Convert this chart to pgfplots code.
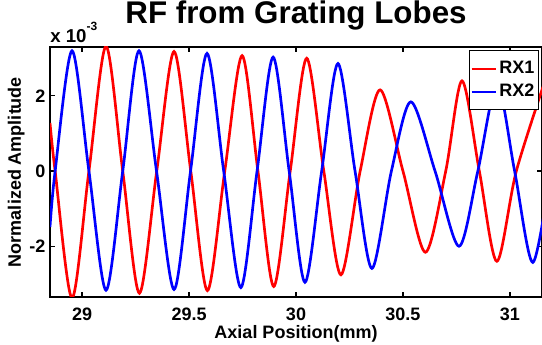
\documentclass[border=0pt]{standalone}
\usepackage{pgfplots}
\pgfplotsset{compat=1.18}
\usepackage{fontspec}
\setmainfont{Liberation Sans}
\begin{document}
\begin{tikzpicture}
\begin{axis}[name=ax, scale only axis, width=369pt, height=187.5pt,
 xmin=28.85, xmax=31.15, ymin=-3.35, ymax=3.3,
 xtick={29,29.5,30,30.5,31}, xticklabels={29,29.5,30,30.5,31},
 ytick={-2,0,2}, yticklabels={-2,0,2},
 tick align=inside, major tick length=4pt,
 axis line style={line width=1.3pt},
 every tick/.style={line width=0.9pt, black},
 tick label style={font=\fontsize{13.5}{16}\selectfont\bfseries},
 xticklabel style={anchor=base, yshift=-18pt},
 xlabel={Axial Position(mm)}, ylabel={Normalized Amplitude},
 label style={font=\fontsize{13.5}{16}\selectfont\bfseries},
 xlabel style={at={(axis description cs:0.5,-0.168)}, anchor=base},
 ylabel style={at={(axis description cs:-0.059,0.5)}, anchor=base},
 title={RF from Grating Lobes},
 title style={font=\fontsize{23.5}{28}\selectfont\bfseries, at={(axis description cs:0.5,1.06)}, anchor=base},
 legend style={at={(rel axis cs:0.994,0.988)}, anchor=north east, draw=black, line width=1pt,
   font=\fontsize{13.5}{16}\selectfont\bfseries, inner xsep=1pt, inner ysep=6pt, row sep=2.5pt},
 legend cell align=left,
 legend image code/.code={\draw[#1, line width=1.5pt] (0pt,0pt) -- (18pt,0pt);},
]
\addplot[red, line width=2pt, smooth] coordinates {
(28.85,1.28) (28.874,0) (28.953,-3.38) (29.032,0) (29.112,3.32) (29.19,0)
(29.268,-3.25) (29.349,0) (29.43,3.18) (29.508,0) (29.586,-3.18) (29.667,0)
(29.748,3.07) (29.822,0) (29.896,-3.07) (29.973,0) (30.05,3.0) (30.13,0)
(30.21,-2.76) (30.30,0) (30.393,2.16) (30.50,0) (30.605,-2.16) (30.70,0)
(30.776,2.4) (30.857,0) (30.939,-2.4) (31.03,0) (31.17,2.5)
};
\addlegendentry{RX1}
\addplot[blue, line width=2pt, smooth] coordinates {
(28.85,-1.49) (28.874,0) (28.953,3.2) (29.032,0) (29.112,-3.17) (29.19,0)
(29.266,3.2) (29.348,0) (29.43,-3.15) (29.507,0) (29.584,3.13) (29.662,0)
(29.742,-3.1) (29.818,0) (29.893,3.03) (29.968,0) (30.042,-2.96) (30.12,0)
(30.196,2.86) (30.276,0) (30.355,-2.59) (30.446,0) (30.537,1.84) (30.65,0)
(30.762,-2.0) (30.85,0) (30.94,2.3) (31.022,0) (31.107,-2.43) (31.19,0)
};
\addlegendentry{RX2}
\end{axis}
\node[anchor=base west, inner sep=0pt, font=\fontsize{14}{16}\selectfont\bfseries] at ([yshift=3pt]ax.north west) {x 10\raisebox{9.5pt}{\fontsize{9}{11}\selectfont -3}};
\pgfresetboundingbox
\path ([xshift=-37.5pt,yshift=-36pt]ax.south west) rectangle ([yshift=35.25pt]ax.north east);
\end{tikzpicture}
\end{document}
